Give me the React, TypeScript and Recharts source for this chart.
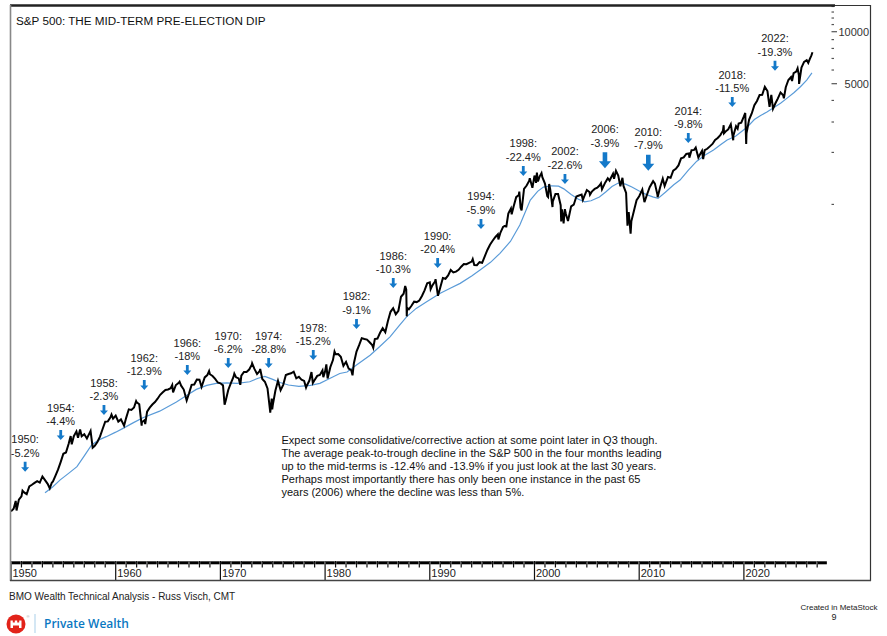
import React from 'react';
import { ComposedChart, Line, XAxis, YAxis, ReferenceDot } from 'recharts';

const FONT = '"Liberation Sans", Arial, Helvetica, sans-serif';
const TITLE = 'S&P 500: THE MID-TERM PRE-ELECTION DIP';

// S&P 500 (decimal year, level)
const SPX: [number, number][] = [
  [1950.0, 16.7], [1950.25, 17.3], [1950.45, 19.2], [1950.53, 16.9], [1950.75, 19.5], [1951.0, 20.4],
  [1951.1, 22.0], [1951.25, 21.5], [1951.5, 21.0], [1951.75, 23.3], [1952.0, 23.8], [1952.25, 24.4],
  [1952.5, 25.0], [1952.75, 24.5], [1953.0, 26.6], [1953.25, 25.3], [1953.5, 24.1], [1953.7, 22.7],
  [1953.9, 24.5], [1954.0, 24.8], [1954.25, 26.9], [1954.5, 29.2], [1954.75, 32.3], [1955.0, 36.0],
  [1955.25, 36.6], [1955.5, 41.0], [1955.7, 45.6], [1955.8, 40.8], [1956.0, 45.5], [1956.25, 48.5],
  [1956.4, 44.6], [1956.6, 49.7], [1956.75, 45.4], [1957.0, 46.7], [1957.25, 44.1], [1957.5, 47.4],
  [1957.6, 48.8], [1957.8, 39.0], [1958.0, 40.0], [1958.25, 42.1], [1958.5, 45.2], [1958.75, 50.1],
  [1959.0, 55.2], [1959.25, 55.4], [1959.5, 58.5], [1959.6, 60.7], [1959.75, 57.5], [1960.0, 59.9],
  [1960.25, 55.3], [1960.5, 56.9], [1960.8, 52.3], [1961.0, 58.1], [1961.25, 65.1], [1961.5, 64.6],
  [1961.75, 66.7], [1961.95, 72.6], [1962.0, 71.6], [1962.25, 69.6], [1962.48, 52.3], [1962.5, 54.8],
  [1962.75, 56.3], [1962.82, 53.5], [1963.0, 63.1], [1963.25, 66.6], [1963.5, 69.4], [1963.75, 71.7],
  [1964.0, 75.0], [1964.25, 79.0], [1964.5, 81.7], [1964.75, 84.2], [1965.0, 84.8], [1965.25, 86.2],
  [1965.4, 90.0], [1965.48, 81.6], [1965.75, 90.0], [1966.0, 92.4], [1966.1, 94.1], [1966.25, 89.2],
  [1966.5, 84.7], [1966.78, 73.2], [1967.0, 80.3], [1967.25, 90.2], [1967.5, 90.6], [1967.75, 96.7],
  [1968.0, 96.5], [1968.2, 87.7], [1968.5, 99.6], [1968.75, 102.7], [1968.92, 108.4], [1969.0, 103.9],
  [1969.25, 101.5], [1969.5, 97.7], [1969.75, 93.1], [1970.0, 92.1], [1970.25, 89.6], [1970.4, 69.3],
  [1970.5, 72.7], [1970.75, 84.2], [1971.0, 92.2], [1971.25, 100.3], [1971.33, 104.8], [1971.5, 99.7],
  [1971.75, 98.3], [1971.9, 90.2], [1972.0, 102.1], [1972.25, 107.2], [1972.5, 107.1], [1972.75, 110.6],
  [1973.0, 118.1], [1973.03, 120.2], [1973.25, 111.5], [1973.5, 104.3], [1973.75, 108.4], [1973.8, 111.4],
  [1974.0, 97.6], [1974.25, 94.0], [1974.5, 86.0], [1974.75, 63.5], [1974.76, 62.3], [1974.9, 75.2],
  [1974.95, 65.0], [1975.0, 68.6], [1975.25, 83.4], [1975.5, 95.2], [1975.75, 83.9], [1976.0, 90.2],
  [1976.25, 102.8], [1976.5, 104.3], [1976.75, 105.2], [1977.0, 107.5], [1977.25, 98.4], [1977.5, 100.5],
  [1977.75, 96.5], [1978.0, 95.1], [1978.18, 86.9], [1978.25, 89.2], [1978.5, 95.5], [1978.7, 107.0],
  [1978.83, 92.5], [1979.0, 96.1], [1979.25, 101.6], [1979.5, 102.9], [1979.75, 109.3], [1979.83, 99.9],
  [1980.0, 107.9], [1980.12, 118.4], [1980.24, 98.2], [1980.5, 114.2], [1980.75, 125.5], [1980.9, 140.5],
  [1981.0, 135.8], [1981.25, 136.0], [1981.5, 131.2], [1981.75, 116.2], [1982.0, 122.6], [1982.25, 112.0],
  [1982.5, 109.6], [1982.62, 102.4], [1982.75, 120.4], [1983.0, 140.6], [1983.25, 153.0], [1983.5, 168.1],
  [1983.75, 166.1], [1984.0, 164.9], [1984.25, 159.2], [1984.5, 153.2], [1984.6, 147.8], [1984.75, 166.1],
  [1985.0, 167.2], [1985.25, 180.7], [1985.5, 191.9], [1985.75, 182.1], [1986.0, 211.3], [1986.25, 238.9],
  [1986.5, 250.8], [1986.75, 231.3], [1987.0, 242.2], [1987.25, 291.7], [1987.5, 304.0], [1987.65, 336.8],
  [1987.75, 321.8], [1987.8, 224.8], [1987.83, 251.8], [1988.0, 247.1], [1988.25, 258.9], [1988.5, 273.5],
  [1988.75, 271.9], [1989.0, 277.7], [1989.25, 294.9], [1989.5, 318.0], [1989.75, 349.2], [1990.0, 353.4],
  [1990.08, 322.9], [1990.25, 339.9], [1990.5, 358.0], [1990.55, 369.0], [1990.78, 295.5], [1991.0, 330.2],
  [1991.25, 375.2], [1991.5, 371.2], [1991.75, 387.9], [1992.0, 417.1], [1992.25, 403.7], [1992.5, 408.1],
  [1992.75, 417.8], [1993.0, 435.7], [1993.25, 451.7], [1993.5, 450.5], [1993.75, 458.9], [1994.0, 466.5],
  [1994.1, 482.0], [1994.25, 445.8], [1994.5, 444.3], [1994.75, 462.7], [1995.0, 459.3], [1995.25, 500.7],
  [1995.5, 544.8], [1995.75, 584.4], [1996.0, 615.9], [1996.25, 645.5], [1996.5, 670.6], [1996.55, 626.7],
  [1996.75, 687.3], [1997.0, 740.7], [1997.25, 757.1], [1997.3, 737.7], [1997.5, 885.1], [1997.75, 947.3],
  [1997.82, 876.9], [1998.0, 970.4], [1998.25, 1101.8], [1998.5, 1133.8], [1998.55, 1186.8], [1998.67, 957.3],
  [1998.77, 923.3], [1999.0, 1229.2], [1999.25, 1286.4], [1999.5, 1372.7], [1999.55, 1418.8], [1999.8, 1247.4],
  [2000.0, 1469.3], [2000.15, 1333.4], [2000.23, 1527.5], [2000.33, 1356.6], [2000.5, 1454.6], [2000.67, 1517.7],
  [2000.75, 1436.5], [2001.0, 1320.3], [2001.22, 1117.6], [2001.3, 1103.3], [2001.4, 1312.8], [2001.5, 1224.4],
  [2001.72, 965.8], [2001.75, 1040.9], [2002.0, 1148.1], [2002.25, 1147.4], [2002.5, 989.8], [2002.55, 797.7],
  [2002.62, 937.0], [2002.75, 815.3], [2002.78, 776.8], [2002.9, 938.0], [2003.0, 879.8], [2003.2, 800.7],
  [2003.5, 974.5], [2003.75, 996.0], [2004.0, 1111.9], [2004.25, 1126.2], [2004.5, 1140.8], [2004.62, 1063.2],
  [2004.75, 1114.6], [2005.0, 1211.9], [2005.25, 1180.6], [2005.3, 1137.5], [2005.5, 1191.3], [2005.75, 1228.8],
  [2006.0, 1248.3], [2006.25, 1294.8], [2006.35, 1325.8], [2006.45, 1223.7], [2006.75, 1335.9], [2007.0, 1418.3],
  [2007.17, 1374.0], [2007.5, 1503.4], [2007.6, 1406.7], [2007.78, 1565.2], [2008.0, 1468.4], [2008.2, 1273.4],
  [2008.4, 1426.6], [2008.5, 1280.0], [2008.75, 1166.4], [2008.88, 752.4], [2009.0, 903.3], [2009.18, 676.5],
  [2009.25, 797.9], [2009.5, 919.3], [2009.75, 1057.1], [2010.0, 1115.1], [2010.3, 1217.3], [2010.5, 1030.7],
  [2010.75, 1141.2], [2011.0, 1257.6], [2011.33, 1363.6], [2011.5, 1320.6], [2011.75, 1131.4], [2011.76, 1099.2],
  [2012.0, 1257.6], [2012.25, 1408.5], [2012.43, 1278.0], [2012.75, 1440.7], [2013.0, 1426.2], [2013.25, 1569.2],
  [2013.5, 1606.3], [2013.75, 1681.6], [2014.0, 1848.4], [2014.25, 1872.3], [2014.5, 1960.2], [2014.75, 1972.3],
  [2014.79, 1862.5], [2015.0, 2058.9], [2015.25, 2067.9], [2015.4, 2130.8], [2015.65, 1867.6], [2015.75, 1920.0],
  [2016.0, 2043.9], [2016.11, 1829.1], [2016.25, 2059.7], [2016.5, 2098.9], [2016.75, 2168.3], [2017.0, 2238.8],
  [2017.25, 2362.7], [2017.5, 2423.4], [2017.75, 2519.4], [2018.0, 2673.6], [2018.07, 2872.9], [2018.1, 2581.0],
  [2018.25, 2640.9], [2018.5, 2718.4], [2018.75, 2914.0], [2018.98, 2351.1], [2019.0, 2506.9], [2019.25, 2834.4],
  [2019.4, 2744.0], [2019.5, 2941.8], [2019.75, 2976.7], [2020.0, 3230.8], [2020.13, 3386.2], [2020.22, 2237.4],
  [2020.25, 2584.6], [2020.5, 3100.3], [2020.75, 3363.0], [2021.0, 3756.1], [2021.25, 3972.9], [2021.5, 4297.5],
  [2021.75, 4307.5], [2022.0, 4796.6], [2022.25, 4530.4], [2022.45, 3666.0], [2022.62, 4305.0], [2022.78, 3577.0],
  [2023.0, 3839.5], [2023.25, 4109.3], [2023.5, 4450.4], [2023.75, 4288.0], [2023.82, 4117.0], [2024.0, 4769.8],
  [2024.25, 5254.4], [2024.5, 5460.5], [2024.6, 5186.0], [2024.75, 5762.5], [2025.0, 5881.6], [2025.13, 6144.0],
  [2025.25, 5611.9], [2025.27, 4982.0], [2025.5, 6205.0], [2025.75, 6688.0], [2026.0, 6850.0], [2026.15, 6600.0],
  [2026.3, 6950.0], [2026.45, 7300.0], [2026.55, 7600.0],
];

// long moving average (blue)
const MA: [number, number][] = [
  [1953.25, 21.4], [1954.0, 23.2], [1954.7, 25.4], [1955.5, 27.7], [1956.3, 30.3], [1957.0, 35.0],
  [1957.7, 40.5], [1958.4, 43.3], [1959.1, 45.2], [1960.0, 48.0], [1960.7, 50.5], [1961.7, 54.5],
  [1962.6, 58.2], [1964.2, 63.5], [1965.8, 71.8], [1966.8, 78.5], [1967.7, 84.9], [1968.7, 89.5],
  [1969.6, 92.0], [1970.6, 92.5], [1971.6, 92.0], [1972.8, 94.0], [1973.6, 98.5], [1974.25, 101.0],
  [1975.0, 97.0], [1975.7, 93.0], [1976.5, 90.0], [1977.5, 88.5], [1978.6, 89.5], [1979.5, 92.0],
  [1980.2, 96.5], [1981.4, 105.0], [1982.1, 107.0], [1983.0, 117.5], [1984.3, 134.0], [1985.2, 150.0],
  [1986.2, 171.0], [1987.0, 196.0], [1987.8, 224.0], [1988.7, 250.0], [1989.7, 273.0], [1991.0, 306.0],
  [1992.0, 328.0], [1992.9, 349.0], [1994.0, 385.0], [1994.8, 417.0], [1995.8, 462.0], [1996.7, 521.0],
  [1997.7, 610.0], [1998.6, 760.0], [1999.6, 1060.0], [2000.3, 1190.0], [2000.85, 1260.0], [2001.6, 1282.0],
  [2002.3, 1275.0], [2002.8, 1230.0], [2003.5, 1140.0], [2004.2, 1070.0], [2004.8, 1035.0], [2005.4, 1050.0],
  [2006.2, 1103.0], [2006.8, 1180.0], [2007.4, 1270.0], [2008.0, 1330.0], [2008.7, 1310.0], [2009.3, 1260.0],
  [2010.0, 1195.0], [2010.7, 1140.0], [2011.3, 1105.0], [2011.8, 1084.0], [2012.5, 1175.0], [2013.3, 1300.0],
  [2013.9, 1384.0], [2014.7, 1580.0], [2015.5, 1780.0], [2016.3, 1930.0], [2017.1, 2066.0], [2017.8, 2220.0],
  [2018.4, 2360.0], [2019.2, 2480.0], [2020.3, 2796.0], [2021.0, 3100.0], [2021.6, 3270.0], [2022.2, 3430.0],
  [2022.8, 3614.0], [2023.5, 3850.0], [2024.1, 4110.0], [2024.8, 4450.0], [2025.4, 4800.0], [2026.0, 5250.0],
  [2026.5, 5780.0],
];

const DIP_YEARS = ['1950', '1954', '1958', '1962', '1966', '1970', '1974', '1978', '1982', '1986',
  '1990', '1994', '1998', '2002', '2006', '2010', '2014', '2018', '2022'];
const DIP_PCT = ['-5.2%', '-4.4%', '-2.3%', '-12.9%', '-18%', '-6.2%', '-28.8%', '-15.2%', '-9.1%', '-10.3%',
  '-20.4%', '-5.9%', '-22.4%', '-22.6%', '-3.9%', '-7.9%', '-9.8%', '-11.5%', '-19.3%'];
// where each arrow points, in chart units (year, index level)
const ARROW_X = [1951.35, 1954.75, 1958.88, 1962.73, 1966.84, 1970.75, 1974.61, 1978.87, 1983.0, 1986.51,
  1990.75, 1994.89, 1998.93, 2002.91, 2006.73, 2010.87, 2014.69, 2018.89, 2022.97];
const ARROW_LEVEL = [28.3, 43.2, 60.3, 84.2, 102.8, 112.9, 112.9, 125.6, 190, 328,
  428, 721, 1462, 1314, 1619, 1568, 2267, 3662, 5944];
const BIG_ARROWS = ['2006', '2010'];

const DECADE_TICKS = [1950, 1960, 1970, 1980, 1990, 2000, 2010, 2020];
const LAST_TICK_YEAR = 2027;
const PRICE_TICKS = [1000, 2000, 3000, 4000, 5000, 6000, 7000, 8000, 9000, 10000, 11000, 12000, 13000, 14000];
const PRICE_LABELS = [5000, 10000];

const NOTE_LINES = [
  'Expect some consolidative/corrective action at some point later in Q3 though.',
  'The average peak-to-trough decline in the S&P 500 in the four months leading',
  'up to the mid-terms is -12.4% and -13.9% if you just look at the last 30 years.',
  'Perhaps most importantly there has only been one instance in the past 65',
  'years (2006) where the decline was less than 5%.',
];

const X_DOMAIN: [number, number] = [1950, 2028.32];
const Y_DOMAIN: [number, number] = [8.73, 14277];
const YEAR_PX = 820 / (X_DOMAIN[1] - X_DOMAIN[0]);

const ARROW_BLUE = '#1479c9';

const chartData = [
  ...SPX.map(([t, v]) => ({ t, close: v })),
  ...MA.map(([t, v]) => ({ t, ma: v })),
].sort((a, b) => a.t - b.t);

// each decade tick draws its label plus the ten yearly marks of the MetaStock time strip
const DecadeTick = (props: any) => {
  const { x, y, payload } = props;
  const decade = payload.value as number;
  const years = Array.from({ length: 10 }, (_, i) => decade + i).filter((yr) => yr <= LAST_TICK_YEAR);
  return (
    <g>
      {years.map((yr, i) => {
        const xi = x + i * YEAR_PX;
        return (
          <g key={yr}>
            <rect x={xi + 0.7} y={y + 1.3} width={YEAR_PX - 1.5} height={3} fill="#000" />
            <line x1={xi} x2={xi} y1={y + 1} y2={i === 0 ? y + 20 : y + 7.5} stroke="#111" strokeWidth={1.2} />
          </g>
        );
      })}
      <text x={x + 1.5} y={y + 17} fontSize={11} fontFamily={FONT} fill="#222">
        {decade}
      </text>
    </g>
  );
};

const PriceTick = (props: any) => {
  const { x, y, payload } = props;
  const labelled = PRICE_LABELS.includes(payload.value);
  return (
    <g>
      <line x1={x + 0.5} x2={x + (labelled ? 6 : 3)} y1={y} y2={y} stroke="#555" strokeWidth={1.2} />
      {labelled && (
        <text x={869} y={y + 4} textAnchor="end" fontSize={11} fontFamily={FONT} fill="#333">
          {payload.value}
        </text>
      )}
    </g>
  );
};

const DipMarker = ({ cx, cy, year, pct }: any) => {
  const big = BIG_ARROWS.includes(year);
  const h = big ? 16 : 10;
  const hw = big ? 6 : 4;
  const sw = big ? 2.3 : 1.4;
  const hh = big ? 7 : 4.5;
  const off = big ? 6.5 : 0;
  const d = `M${cx - sw},${cy - h} L${cx + sw},${cy - h} L${cx + sw},${cy - hh} L${cx + hw},${cy - hh} L${cx},${cy} L${cx - hw},${cy - hh} L${cx - sw},${cy - hh} Z`;
  return (
    <g>
      <path d={d} fill={ARROW_BLUE} />
      <text x={cx} y={cy - 28.5 - off} textAnchor="middle" fontSize={11} fontFamily={FONT} fill="#222">
        {year}:
      </text>
      <text x={cx} y={cy - 15 - off} textAnchor="middle" fontSize={11} fontFamily={FONT} fill="#222">
        {pct}
      </text>
    </g>
  );
};

export default function App() {
  return (
    <div style={{ position: 'absolute', left: 0, top: 0, width: 887, height: 636, background: '#fff' }}>
      <ComposedChart
        width={887}
        height={636}
        data={chartData}
        margin={{ top: 5, right: 11, bottom: 56, left: 11 }}
      >
        <XAxis
          type="number"
          dataKey="t"
          domain={X_DOMAIN}
          allowDataOverflow
          ticks={DECADE_TICKS}
          interval={0}
          height={20}
          tickSize={0}
          tickMargin={0}
          axisLine={false}
          tickLine={false}
          tick={<DecadeTick />}
        />
        <YAxis
          type="number"
          orientation="right"
          scale="log"
          domain={Y_DOMAIN}
          allowDataOverflow
          ticks={PRICE_TICKS}
          interval={0}
          width={45}
          tickSize={0}
          tickMargin={0}
          axisLine={false}
          tickLine={false}
          tick={<PriceTick />}
        />
        <Line
          type="linear"
          dataKey="ma"
          stroke="#5a9bd8"
          strokeWidth={1.2}
          dot={false}
          connectNulls
          isAnimationActive={false}
        />
        <Line
          type="linear"
          dataKey="close"
          stroke="#000"
          strokeWidth={2}
          dot={false}
          connectNulls
          isAnimationActive={false}
        />
        {DIP_YEARS.map((yr, i) => (
          <ReferenceDot
            key={yr}
            x={ARROW_X[i]}
            y={ARROW_LEVEL[i]}
            r={0}
            ifOverflow="visible"
            shape={(p: any) => <DipMarker cx={p.cx} cy={p.cy} year={yr} pct={DIP_PCT[i]} />}
          />
        ))}
      </ComposedChart>

      <svg
        width={887}
        height={636}
        style={{ position: 'absolute', left: 0, top: 0, pointerEvents: 'none' }}
      >
        {/* frame */}
        <line x1={10} x2={835} y1={5.5} y2={5.5} stroke="#222" strokeWidth={2.6} />
        <line x1={835} x2={871} y1={5.5} y2={5.5} stroke="#333" strokeWidth={1.2} />
        <line x1={10.5} x2={10.5} y1={5} y2={581} stroke="#888" strokeWidth={1.6} />
        <line x1={870.5} x2={870.5} y1={5} y2={581} stroke="#333" strokeWidth={1.2} />
        <line x1={10} x2={871} y1={580.5} y2={580.5} stroke="#444" strokeWidth={1.3} />

        <text x={16} y={25} fontSize={11.7} fontFamily={FONT} fill="#111">
          {TITLE}
        </text>

        {NOTE_LINES.map((line, i) => (
          <text key={i} x={281.5} y={444 + i * 12.95} fontSize={11} fontFamily={FONT} fill="#111">
            {line}
          </text>
        ))}

        <text x={9} y={600} fontSize={10} fontFamily={FONT} fill="#222">
          BMO Wealth Technical Analysis - Russ Visch, CMT
        </text>
        <text x={839} y={610} textAnchor="middle" fontSize={8} fontFamily={FONT} fill="#222">
          Created in MetaStock
        </text>
        <text x={834} y={620} textAnchor="middle" fontSize={9} fontFamily={FONT} fill="#222">
          9
        </text>

        {/* logo */}
        <circle cx={16} cy={624} r={9.5} fill="#e2231a" />
        <path
          d="M10.5,628 V620.5 H12.8 V622.5 H14.8 V620.5 H17.2 V622.5 H19.2 V620.5 H21.5 V628 H19 V625.5 H13 V628 Z"
          fill="#fff"
        />
        <text x={26.5} y={618} fontSize={4} fontFamily={FONT} fill="#999">®</text>
        <line x1={35} x2={35} y1={614} y2={633} stroke="#a9cfe9" strokeWidth={1} />
        <text x={44} y={628} fontSize={12} fontWeight={600} fontFamily={'"Open Sans", "Noto Sans", sans-serif'} fill="#0a78c2">
          Private Wealth
        </text>
      </svg>
    </div>
  );
}
